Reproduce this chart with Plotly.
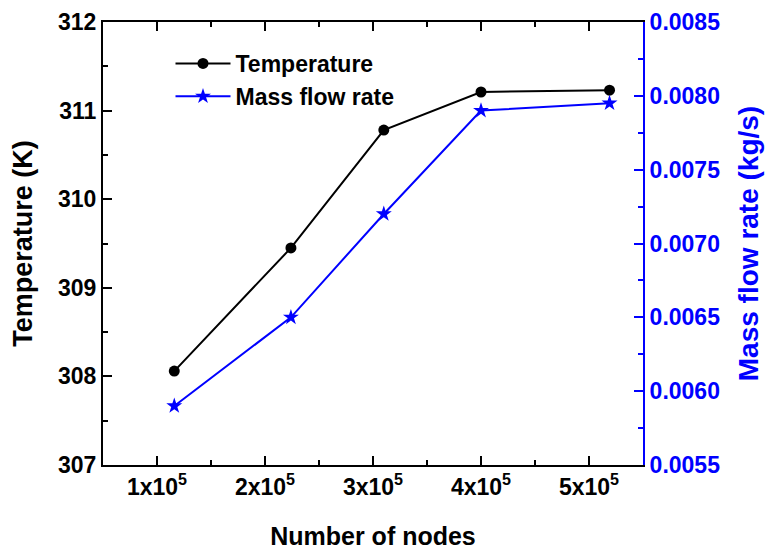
import plotly.graph_objects as go

nodes = [1.16e5, 2.24e5, 3.10e5, 4.00e5, 5.19e5]
temperature = [308.06, 309.45, 310.78, 311.21, 311.23]
mass_flow = [0.0059, 0.0065, 0.0072, 0.0079, 0.00795]

x_tickvals = [1e5, 2e5, 3e5, 4e5, 5e5]
x_ticktext = ["1x10<sup>5</sup>", "2x10<sup>5</sup>", "3x10<sup>5</sup>", "4x10<sup>5</sup>", "5x10<sup>5</sup>"]

FONT = "Liberation Sans, Arial, sans-serif"
BLUE = "#0000ff"

fig = go.Figure()
fig.add_trace(go.Scatter(
    x=nodes, y=temperature, name="Temperature", mode="lines+markers",
    line=dict(color="black", width=2),
    marker=dict(symbol="circle", size=11, color="black"),
    yaxis="y"))
fig.add_trace(go.Scatter(
    x=nodes, y=mass_flow, name="Mass flow rate", mode="lines+markers",
    line=dict(color=BLUE, width=2),
    marker=dict(symbol="star", size=12, color=BLUE),
    yaxis="y2"))

tick_font = dict(family=FONT, size=23, color="black", weight="bold")
fig.update_layout(
    width=765, height=550,
    margin=dict(l=103, r=122, t=22, b=85, autoexpand=False),
    paper_bgcolor="white", plot_bgcolor="white",
    font=dict(family=FONT, weight="bold"),
    showlegend=True,
    legend=dict(x=0.125, y=0.955, xanchor="left", yanchor="top",
                bgcolor="rgba(0,0,0,0)", itemwidth=55,
                font=dict(family=FONT, size=23, color="black", weight="bold"),
                tracegroupgap=0),
    xaxis=dict(
        range=[0.5e5, 5.5e5], tickvals=x_tickvals, ticktext=x_ticktext,
        automargin=False,
        ticks="inside", ticklen=9, tickwidth=2, tickcolor="black",
        minor=dict(ticks="inside", ticklen=5, tickwidth=2, dtick=1e5, tick0=0.5e5, tickcolor="black"),
        showline=True, linecolor="black", linewidth=2, mirror="ticks",
        showgrid=False, zeroline=False,
        tickfont=tick_font,
        title=dict(text="Number of nodes", font=dict(family=FONT, size=25, color="black", weight="bold"), standoff=31),
    ),
    yaxis=dict(
        range=[307, 312], dtick=1, tick0=307,
        automargin=False,
        ticks="inside", ticklen=9, tickwidth=2, tickcolor="black",
        minor=dict(ticks="inside", ticklen=5, tickwidth=2, dtick=0.5, tickcolor="black"),
        showline=True, linecolor="black", linewidth=2,
        showgrid=False, zeroline=False,
        tickfont=tick_font,
        title=dict(text="Temperature (K)", font=dict(family=FONT, size=27, color="black", weight="bold"), standoff=18),
    ),
    yaxis2=dict(
        range=[0.0055, 0.0085], dtick=0.0005, tick0=0.0055, tickformat=".4f",
        overlaying="y", side="right", automargin=False,
        ticks="inside", ticklen=9, tickwidth=2, tickcolor=BLUE,
        minor=dict(ticks="inside", ticklen=5, tickwidth=2, dtick=0.00025, tickcolor=BLUE),
        showline=True, linecolor=BLUE, linewidth=2,
        showgrid=False, zeroline=False,
        tickfont=dict(family=FONT, size=23, color=BLUE, weight="bold"),
        title=dict(text="Mass flow rate (kg/s)", font=dict(family=FONT, size=28, color=BLUE, weight="bold"), standoff=19),
    ),
)

fig.write_html("out.html")
